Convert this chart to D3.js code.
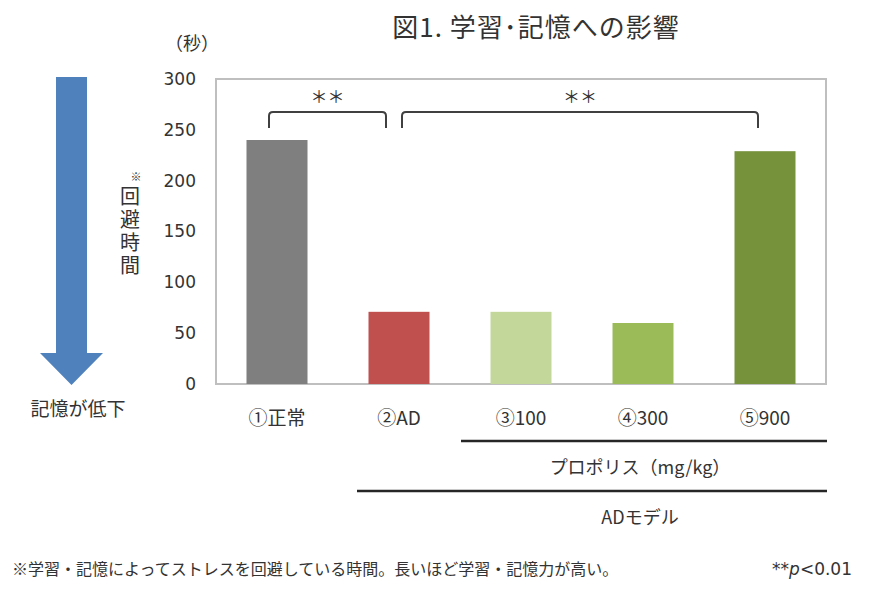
<!DOCTYPE html>
<html>
<head>
<meta charset="utf-8">
<script src="https://cdn.jsdelivr.net/npm/d3@7"></script>
<style>
  body { margin: 0; background: #fff; }
  text { font-family: "Noto Sans CJK JP", "Noto Sans", sans-serif; fill: #333; }
</style>
</head>
<body>
<svg width="874" height="591"></svg>
<script>
// data
const categories = ["①正常", "②AD", "③100", "④300", "⑤900"];
const avoidSeconds = [240, 71, 71, 60, 229];
const barColors = ["#7f7f7f", "#c0504d", "#c4d79b", "#9bbb59", "#76933c"];
const yTicks = [0, 50, 100, 150, 200, 250, 300];
// significance brackets: from category index to category index
const brackets = [
  {from: 0, to: 1, label: "＊＊"},
  {from: 1, to: 4, label: "＊＊"}
];

const svg = d3.select("svg");

// plot area
const margin = {top: 79, left: 216, right: 48, bottom: 207};
const width = 874 - margin.left - margin.right;
const height = 591 - margin.top - margin.bottom;

const x = d3.scaleBand()
  .domain(categories)
  .range([0, width])
  .paddingInner(0.5)
  .paddingOuter(0.25);

const y = d3.scaleLinear()
  .domain([0, 300])
  .range([height, 0]);

const g = svg.append("g")
  .attr("transform", `translate(${margin.left},${margin.top})`);

// frame
g.append("rect")
  .attr("x", 0).attr("y", 0)
  .attr("width", width).attr("height", height)
  .attr("fill", "none")
  .attr("stroke", "#bfbfbf")
  .attr("stroke-width", 2);

// bars
g.selectAll("rect.bar")
  .data(categories)
  .enter()
  .append("rect")
  .attr("class", "bar")
  .attr("x", d => x(d))
  .attr("y", (d, i) => y(avoidSeconds[i]))
  .attr("width", x.bandwidth())
  .attr("height", (d, i) => height - y(avoidSeconds[i]))
  .attr("fill", (d, i) => barColors[i]);

// y axis (labels only)
const yAxis = g.append("g")
  .attr("transform", "translate(-20,0)")
  .call(d3.axisLeft(y).tickValues(yTicks).tickSize(0).tickPadding(0));
yAxis.select(".domain").remove();
yAxis.selectAll("text")
  .style("font-size", "17px")
  .style("font-family", "Verdana, 'DejaVu Sans', sans-serif")
  .attr("fill", "#333");

// x axis labels
const xAxis = g.append("g")
  .attr("transform", `translate(0,${height + 27})`)
  .call(d3.axisBottom(x).tickSize(0).tickPadding(0));
xAxis.select(".domain").remove();
xAxis.selectAll("text")
  .style("font-size", "19px")
  .attr("fill", "#333");

// brackets
const bracketTop = 33, legBottom = 49, r = 4;
brackets.forEach((b, k) => {
  const x0 = x(categories[b.from]) + x.bandwidth() / 2 + (k === 0 ? -8 : 3);
  const x1 = x(categories[b.to]) + x.bandwidth() / 2 + (k === 0 ? -13 : -7);
  const path = d3.path();
  path.moveTo(x0, legBottom);
  path.lineTo(x0, bracketTop + r);
  path.quadraticCurveTo(x0, bracketTop, x0 + r, bracketTop);
  path.lineTo(x1 - r, bracketTop);
  path.quadraticCurveTo(x1, bracketTop, x1, bracketTop + r);
  path.lineTo(x1, legBottom);
  g.append("path")
    .attr("d", path.toString())
    .attr("fill", "none")
    .attr("stroke", "#404040")
    .attr("stroke-width", 2);
  g.append("text")
    .attr("x", (x0 + x1) / 2)
    .attr("y", 24)
    .attr("text-anchor", "middle")
    .style("font-size", "17px")
    .text(b.label);
});

// title
svg.append("text")
  .attr("x", 536).attr("y", 37)
  .attr("text-anchor", "middle")
  .style("font-size", "26px")
  .style("letter-spacing", "1px")
  .attr("fill", "#404040")
  .text("図1. 学習･記憶への影響");

// unit
svg.append("text")
  .attr("x", 192).attr("y", 50)
  .attr("text-anchor", "middle")
  .style("font-size", "18px")
  .text("（秒）");

// vertical y title
svg.append("text")
  .attr("x", 136).attr("y", 181)
  .attr("text-anchor", "middle")
  .style("font-size", "11px")
  .text("※");
svg.append("text")
  .attr("x", 130).attr("y", 186)
  .style("font-size", "20px")
  .style("writing-mode", "vertical-rl")
  .style("letter-spacing", "3px")
  .text("回避時間");

// blue arrow
const arrow = d3.path();
arrow.moveTo(56, 77);
arrow.lineTo(87, 77);
arrow.lineTo(87, 353);
arrow.lineTo(103, 353);
arrow.lineTo(71.5, 385);
arrow.lineTo(40, 353);
arrow.lineTo(56, 353);
arrow.closePath();
svg.append("path")
  .attr("d", arrow.toString())
  .attr("fill", "#4f81bd");

svg.append("text")
  .attr("x", 78).attr("y", 416)
  .attr("text-anchor", "middle")
  .style("font-size", "19px")
  .text("記憶が低下");

// group lines under the x labels
const groupLines = [
  {x0: 461, y: 441, label: "プロポリス（mg/kg）", ly: 474},
  {x0: 357, y: 491, label: "ADモデル", ly: 524}
];
groupLines.forEach(d => {
  svg.append("line")
    .attr("x1", d.x0).attr("x2", 827)
    .attr("y1", d.y).attr("y2", d.y)
    .attr("stroke", "#262626")
    .attr("stroke-width", 2.5);
  svg.append("text")
    .attr("x", 640).attr("y", d.ly)
    .attr("text-anchor", "middle")
    .style("font-size", "18px")
    .text(d.label);
});

// footnotes
svg.append("text")
  .attr("x", 12).attr("y", 575)
  .style("font-size", "16px")
  .text("※学習・記憶によってストレスを回避している時間。長いほど学習・記憶力が高い。");

const pnote = svg.append("text")
  .attr("x", 852).attr("y", 575)
  .attr("text-anchor", "end")
  .style("font-size", "17px")
  .style("font-family", "Verdana, 'DejaVu Sans', sans-serif");
pnote.append("tspan").text("**");
pnote.append("tspan").style("font-style", "italic").text("p");
pnote.append("tspan").text("<0.01");
</script>
</body>
</html>
